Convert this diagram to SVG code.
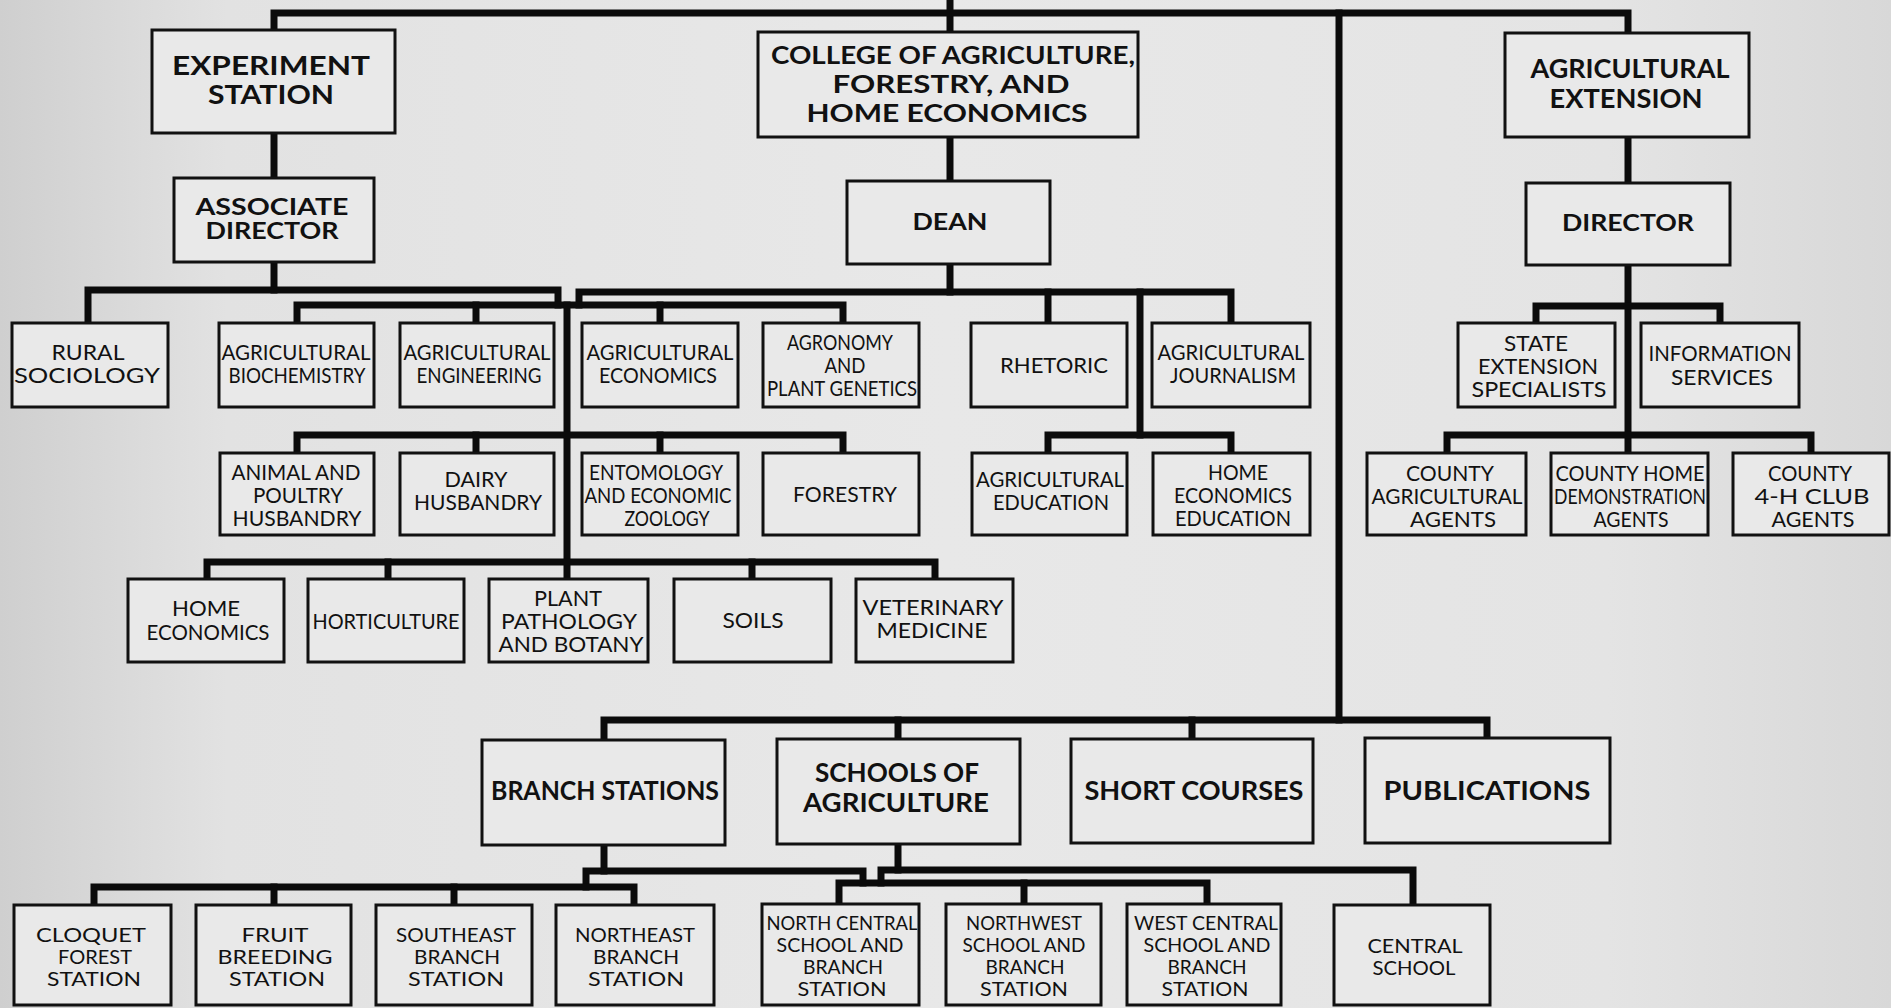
<svg xmlns="http://www.w3.org/2000/svg" width="1891" height="1008" viewBox="0 0 1891 1008">
<defs>
<linearGradient id="bg" x1="0" y1="0" x2="1" y2="0">
<stop offset="0" stop-color="#cfcfcf"/>
<stop offset="0.12" stop-color="#e2e2e2"/>
<stop offset="0.5" stop-color="#e8e8e8"/>
<stop offset="0.85" stop-color="#e4e4e4"/>
<stop offset="1" stop-color="#d8d8d8"/>
</linearGradient>
</defs>
<style>
.box{fill:#e9e9e9;stroke:#111;stroke-width:3}
.c{fill:none;stroke:#0b0b0b;stroke-width:7;stroke-linejoin:miter;stroke-linecap:square}
text{font-family:Lato,"Open Sans","Liberation Sans",sans-serif;text-anchor:middle;fill:#111}
.h{font-weight:bold;font-size:26.5px}
.hc{font-weight:bold;font-size:25.5px}
.hs{font-weight:bold;font-size:22px}
.g{font-weight:bold;font-size:26.5px}
.d{font-size:21px}
.b{font-size:19.5px}
</style>
<rect x="0" y="0" width="1891" height="1008" fill="url(#bg)"/>

<g id="connectors">
<path class="c" d="M950,0 V32"/>
<path class="c" d="M274,30 V13 H1628 V33"/>
<path class="c" d="M1339,13 V720"/>
<path class="c" d="M274,133 V178"/>
<path class="c" d="M274,262 V290"/>
<path class="c" d="M88,322 V290 H558 V305"/>
<path class="c" d="M950,137 V181"/>
<path class="c" d="M950,264 V292"/>
<path class="c" d="M579,305 V292 H1231 V323"/>
<path class="c" d="M1048,292 V323"/>
<path class="c" d="M1140,292 V435"/>
<path class="c" d="M1048,453 V435 H1231 V453"/>
<path class="c" d="M297,323 V305 H843 V323"/>
<path class="c" d="M476,305 V323"/>
<path class="c" d="M660,305 V323"/>
<path class="c" d="M567,305 V579"/>
<path class="c" d="M297,453 V435 H843 V453"/>
<path class="c" d="M476,435 V453"/>
<path class="c" d="M660,435 V453"/>
<path class="c" d="M207,579 V562 H935 V579"/>
<path class="c" d="M388,562 V579"/>
<path class="c" d="M752,562 V579"/>
<path class="c" d="M1628,137 V183"/>
<path class="c" d="M1628,265 V453"/>
<path class="c" d="M1536,323 V306 H1720 V323"/>
<path class="c" d="M1447,453 V435 H1811 V453"/>
<path class="c" d="M604,740 V720 H1487 V738"/>
<path class="c" d="M898,720 V739"/>
<path class="c" d="M1192,720 V739"/>
<path class="c" d="M604,845 V871"/>
<path class="c" d="M586,887 V871 H863 V883"/>
<path class="c" d="M94,905 V887 H634 V905"/>
<path class="c" d="M274,887 V905"/>
<path class="c" d="M454,887 V905"/>
<path class="c" d="M898,844 V870"/>
<path class="c" d="M881,883 V870 H1413 V905"/>
<path class="c" d="M839,904 V883 H1207 V905"/>
<path class="c" d="M1024,883 V904"/>
</g>

<g id="experiment-station"><rect class="box" x="152" y="30" width="243" height="103"/>
<text class="h" x="271" y="75" textLength="198" lengthAdjust="spacingAndGlyphs">EXPERIMENT</text>
<text class="h" x="271" y="104" textLength="126" lengthAdjust="spacingAndGlyphs">STATION</text></g>

<g id="college"><rect class="box" x="758" y="32" width="380" height="105"/>
<text class="hc" x="953" y="64" textLength="364" lengthAdjust="spacingAndGlyphs">COLLEGE OF AGRICULTURE,</text>
<text class="hc" x="951" y="93" textLength="237" lengthAdjust="spacingAndGlyphs">FORESTRY, AND</text>
<text class="hc" x="947" y="122" textLength="281" lengthAdjust="spacingAndGlyphs">HOME ECONOMICS</text></g>

<g id="agricultural-extension"><rect class="box" x="1505" y="33" width="244" height="104"/>
<text class="h" x="1630" y="78" textLength="199" lengthAdjust="spacingAndGlyphs">AGRICULTURAL</text>
<text class="h" x="1626" y="108" textLength="153" lengthAdjust="spacingAndGlyphs">EXTENSION</text></g>

<g id="associate-director"><rect class="box" x="174" y="178" width="200" height="84"/>
<text class="hs" x="272" y="215" textLength="153" lengthAdjust="spacingAndGlyphs">ASSOCIATE</text>
<text class="hs" x="272" y="239" textLength="133" lengthAdjust="spacingAndGlyphs">DIRECTOR</text></g>

<g id="dean"><rect class="box" x="847" y="181" width="203" height="83"/>
<text class="hs" x="950" y="230" textLength="75" lengthAdjust="spacingAndGlyphs">DEAN</text></g>

<g id="director"><rect class="box" x="1526" y="183" width="204" height="82"/>
<text class="hs" x="1628" y="231" textLength="132" lengthAdjust="spacingAndGlyphs">DIRECTOR</text></g>

<g id="rural-sociology"><rect class="box" x="12" y="323" width="156" height="84"/>
<text class="d" x="88" y="360" textLength="73" lengthAdjust="spacingAndGlyphs">RURAL</text>
<text class="d" x="87" y="383" textLength="146" lengthAdjust="spacingAndGlyphs">SOCIOLOGY</text></g>

<g id="agricultural-biochemistry"><rect class="box" x="219" y="323" width="155" height="84"/>
<text class="d" x="296" y="360" textLength="149" lengthAdjust="spacingAndGlyphs">AGRICULTURAL</text>
<text class="d" x="297" y="383" textLength="137" lengthAdjust="spacingAndGlyphs">BIOCHEMISTRY</text></g>

<g id="agricultural-engineering"><rect class="box" x="400" y="323" width="154" height="84"/>
<text class="d" x="477" y="360" textLength="147" lengthAdjust="spacingAndGlyphs">AGRICULTURAL</text>
<text class="d" x="479" y="383" textLength="125" lengthAdjust="spacingAndGlyphs">ENGINEERING</text></g>

<g id="agricultural-economics"><rect class="box" x="582" y="323" width="156" height="84"/>
<text class="d" x="660" y="360" textLength="147" lengthAdjust="spacingAndGlyphs">AGRICULTURAL</text>
<text class="d" x="658" y="383" textLength="118" lengthAdjust="spacingAndGlyphs">ECONOMICS</text></g>

<g id="agronomy"><rect class="box" x="763" y="323" width="156" height="84"/>
<text class="d" x="840" y="350" textLength="106" lengthAdjust="spacingAndGlyphs">AGRONOMY</text>
<text class="d" x="845" y="373" textLength="41" lengthAdjust="spacingAndGlyphs">AND</text>
<text class="d" x="842" y="396" textLength="150" lengthAdjust="spacingAndGlyphs">PLANT GENETICS</text></g>

<g id="rhetoric"><rect class="box" x="971" y="323" width="156" height="84"/>
<text class="d" x="1054" y="373" textLength="108" lengthAdjust="spacingAndGlyphs">RHETORIC</text></g>

<g id="agricultural-journalism"><rect class="box" x="1152" y="323" width="158" height="84"/>
<text class="d" x="1231" y="360" textLength="147" lengthAdjust="spacingAndGlyphs">AGRICULTURAL</text>
<text class="d" x="1233" y="383" textLength="126" lengthAdjust="spacingAndGlyphs">JOURNALISM</text></g>

<g id="state-extension-specialists"><rect class="box" x="1458" y="323" width="157" height="84"/>
<text class="d" x="1536" y="351" textLength="64" lengthAdjust="spacingAndGlyphs">STATE</text>
<text class="d" x="1538" y="374" textLength="120" lengthAdjust="spacingAndGlyphs">EXTENSION</text>
<text class="d" x="1539" y="397" textLength="135" lengthAdjust="spacingAndGlyphs">SPECIALISTS</text></g>

<g id="information-services"><rect class="box" x="1641" y="323" width="158" height="84"/>
<text class="d" x="1720" y="361" textLength="143" lengthAdjust="spacingAndGlyphs">INFORMATION</text>
<text class="d" x="1722" y="385" textLength="102" lengthAdjust="spacingAndGlyphs">SERVICES</text></g>

<g id="animal-poultry-husbandry"><rect class="box" x="220" y="453" width="154" height="82"/>
<text class="d" x="296" y="480" textLength="129" lengthAdjust="spacingAndGlyphs">ANIMAL AND</text>
<text class="d" x="298" y="503" textLength="90" lengthAdjust="spacingAndGlyphs">POULTRY</text>
<text class="d" x="297" y="526" textLength="129" lengthAdjust="spacingAndGlyphs">HUSBANDRY</text></g>

<g id="dairy-husbandry"><rect class="box" x="400" y="453" width="154" height="82"/>
<text class="d" x="476" y="487" textLength="63" lengthAdjust="spacingAndGlyphs">DAIRY</text>
<text class="d" x="478" y="510" textLength="128" lengthAdjust="spacingAndGlyphs">HUSBANDRY</text></g>

<g id="entomology"><rect class="box" x="582" y="453" width="156" height="82"/>
<text class="d" x="656" y="480" textLength="134" lengthAdjust="spacingAndGlyphs">ENTOMOLOGY</text>
<text class="d" x="658" y="503" textLength="147" lengthAdjust="spacingAndGlyphs">AND ECONOMIC</text>
<text class="d" x="667" y="526" textLength="85" lengthAdjust="spacingAndGlyphs">ZOOLOGY</text></g>

<g id="forestry"><rect class="box" x="763" y="453" width="156" height="82"/>
<text class="d" x="845" y="502" textLength="104" lengthAdjust="spacingAndGlyphs">FORESTRY</text></g>

<g id="agricultural-education"><rect class="box" x="972" y="453" width="155" height="82"/>
<text class="d" x="1050" y="487" textLength="148" lengthAdjust="spacingAndGlyphs">AGRICULTURAL</text>
<text class="d" x="1051" y="510" textLength="116" lengthAdjust="spacingAndGlyphs">EDUCATION</text></g>

<g id="home-economics-education"><rect class="box" x="1153" y="453" width="157" height="82"/>
<text class="d" x="1238" y="480" textLength="60" lengthAdjust="spacingAndGlyphs">HOME</text>
<text class="d" x="1233" y="503" textLength="118" lengthAdjust="spacingAndGlyphs">ECONOMICS</text>
<text class="d" x="1233" y="526" textLength="116" lengthAdjust="spacingAndGlyphs">EDUCATION</text></g>

<g id="county-agricultural-agents"><rect class="box" x="1367" y="453" width="159" height="82"/>
<text class="d" x="1450" y="481" textLength="88" lengthAdjust="spacingAndGlyphs">COUNTY</text>
<text class="d" x="1447" y="504" textLength="151" lengthAdjust="spacingAndGlyphs">AGRICULTURAL</text>
<text class="d" x="1453" y="527" textLength="86" lengthAdjust="spacingAndGlyphs">AGENTS</text></g>

<g id="county-home-demonstration-agents"><rect class="box" x="1551" y="453" width="157" height="82"/>
<text class="d" x="1630" y="481" textLength="149" lengthAdjust="spacingAndGlyphs">COUNTY HOME</text>
<text class="d" x="1630" y="504" textLength="152" lengthAdjust="spacingAndGlyphs">DEMONSTRATION</text>
<text class="d" x="1631" y="527" textLength="75" lengthAdjust="spacingAndGlyphs">AGENTS</text></g>

<g id="county-4h-club-agents"><rect class="box" x="1733" y="453" width="156" height="82"/>
<text class="d" x="1810" y="481" textLength="84" lengthAdjust="spacingAndGlyphs">COUNTY</text>
<text class="d" x="1812" y="504" textLength="115" lengthAdjust="spacingAndGlyphs">4-H CLUB</text>
<text class="d" x="1813" y="527" textLength="83" lengthAdjust="spacingAndGlyphs">AGENTS</text></g>

<g id="home-economics"><rect class="box" x="128" y="579" width="156" height="83"/>
<text class="d" x="206" y="616" textLength="68" lengthAdjust="spacingAndGlyphs">HOME</text>
<text class="d" x="208" y="640" textLength="123" lengthAdjust="spacingAndGlyphs">ECONOMICS</text></g>

<g id="horticulture"><rect class="box" x="308" y="579" width="156" height="83"/>
<text class="d" x="386" y="629" textLength="147" lengthAdjust="spacingAndGlyphs">HORTICULTURE</text></g>

<g id="plant-pathology-botany"><rect class="box" x="489" y="579" width="159" height="83"/>
<text class="d" x="568" y="606" textLength="68" lengthAdjust="spacingAndGlyphs">PLANT</text>
<text class="d" x="569" y="629" textLength="136" lengthAdjust="spacingAndGlyphs">PATHOLOGY</text>
<text class="d" x="571" y="652" textLength="145" lengthAdjust="spacingAndGlyphs">AND BOTANY</text></g>

<g id="soils"><rect class="box" x="674" y="579" width="157" height="83"/>
<text class="d" x="753" y="628" textLength="61" lengthAdjust="spacingAndGlyphs">SOILS</text></g>

<g id="veterinary-medicine"><rect class="box" x="856" y="579" width="157" height="83"/>
<text class="d" x="933" y="615" textLength="141" lengthAdjust="spacingAndGlyphs">VETERINARY</text>
<text class="d" x="932" y="638" textLength="111" lengthAdjust="spacingAndGlyphs">MEDICINE</text></g>

<g id="branch-stations"><rect class="box" x="482" y="740" width="243" height="105"/>
<text class="g" x="605" y="800" textLength="228" lengthAdjust="spacingAndGlyphs">BRANCH STATIONS</text></g>

<g id="schools-of-agriculture"><rect class="box" x="777" y="739" width="243" height="105"/>
<text class="g" x="897" y="782" textLength="164" lengthAdjust="spacingAndGlyphs">SCHOOLS OF</text>
<text class="g" x="896" y="812" textLength="186" lengthAdjust="spacingAndGlyphs">AGRICULTURE</text></g>

<g id="short-courses"><rect class="box" x="1071" y="739" width="242" height="104"/>
<text class="g" x="1194" y="800" textLength="219" lengthAdjust="spacingAndGlyphs">SHORT COURSES</text></g>

<g id="publications"><rect class="box" x="1365" y="738" width="245" height="105"/>
<text class="g" x="1487" y="800" textLength="207" lengthAdjust="spacingAndGlyphs">PUBLICATIONS</text></g>

<g id="cloquet-forest-station"><rect class="box" x="14" y="905" width="157" height="100"/>
<text class="b" x="91" y="942" textLength="110" lengthAdjust="spacingAndGlyphs">CLOQUET</text>
<text class="b" x="95" y="964" textLength="74" lengthAdjust="spacingAndGlyphs">FOREST</text>
<text class="b" x="94" y="986" textLength="94" lengthAdjust="spacingAndGlyphs">STATION</text></g>

<g id="fruit-breeding-station"><rect class="box" x="196" y="905" width="155" height="100"/>
<text class="b" x="275" y="942" textLength="67" lengthAdjust="spacingAndGlyphs">FRUIT</text>
<text class="b" x="275" y="964" textLength="115" lengthAdjust="spacingAndGlyphs">BREEDING</text>
<text class="b" x="277" y="986" textLength="96" lengthAdjust="spacingAndGlyphs">STATION</text></g>

<g id="southeast-branch-station"><rect class="box" x="376" y="905" width="156" height="100"/>
<text class="b" x="456" y="942" textLength="120" lengthAdjust="spacingAndGlyphs">SOUTHEAST</text>
<text class="b" x="457" y="964" textLength="86" lengthAdjust="spacingAndGlyphs">BRANCH</text>
<text class="b" x="456" y="986" textLength="96" lengthAdjust="spacingAndGlyphs">STATION</text></g>

<g id="northeast-branch-station"><rect class="box" x="556" y="905" width="158" height="100"/>
<text class="b" x="635" y="942" textLength="120" lengthAdjust="spacingAndGlyphs">NORTHEAST</text>
<text class="b" x="636" y="964" textLength="86" lengthAdjust="spacingAndGlyphs">BRANCH</text>
<text class="b" x="636" y="986" textLength="96" lengthAdjust="spacingAndGlyphs">STATION</text></g>

<g id="north-central-school"><rect class="box" x="762" y="904" width="157" height="101"/>
<text class="b" x="842" y="930" textLength="151" lengthAdjust="spacingAndGlyphs">NORTH CENTRAL</text>
<text class="b" x="840" y="952" textLength="127" lengthAdjust="spacingAndGlyphs">SCHOOL AND</text>
<text class="b" x="843" y="974" textLength="80" lengthAdjust="spacingAndGlyphs">BRANCH</text>
<text class="b" x="842" y="996" textLength="89" lengthAdjust="spacingAndGlyphs">STATION</text></g>

<g id="northwest-school"><rect class="box" x="946" y="904" width="155" height="101"/>
<text class="b" x="1024" y="930" textLength="116" lengthAdjust="spacingAndGlyphs">NORTHWEST</text>
<text class="b" x="1024" y="952" textLength="123" lengthAdjust="spacingAndGlyphs">SCHOOL AND</text>
<text class="b" x="1025" y="974" textLength="79" lengthAdjust="spacingAndGlyphs">BRANCH</text>
<text class="b" x="1024" y="996" textLength="88" lengthAdjust="spacingAndGlyphs">STATION</text></g>

<g id="west-central-school"><rect class="box" x="1127" y="904" width="154" height="101"/>
<text class="b" x="1206" y="930" textLength="144" lengthAdjust="spacingAndGlyphs">WEST CENTRAL</text>
<text class="b" x="1207" y="952" textLength="127" lengthAdjust="spacingAndGlyphs">SCHOOL AND</text>
<text class="b" x="1207" y="974" textLength="79" lengthAdjust="spacingAndGlyphs">BRANCH</text>
<text class="b" x="1205" y="996" textLength="87" lengthAdjust="spacingAndGlyphs">STATION</text></g>

<g id="central-school"><rect class="box" x="1334" y="905" width="156" height="100"/>
<text class="b" x="1415" y="953" textLength="95" lengthAdjust="spacingAndGlyphs">CENTRAL</text>
<text class="b" x="1414" y="975" textLength="83" lengthAdjust="spacingAndGlyphs">SCHOOL</text></g>
</svg>
